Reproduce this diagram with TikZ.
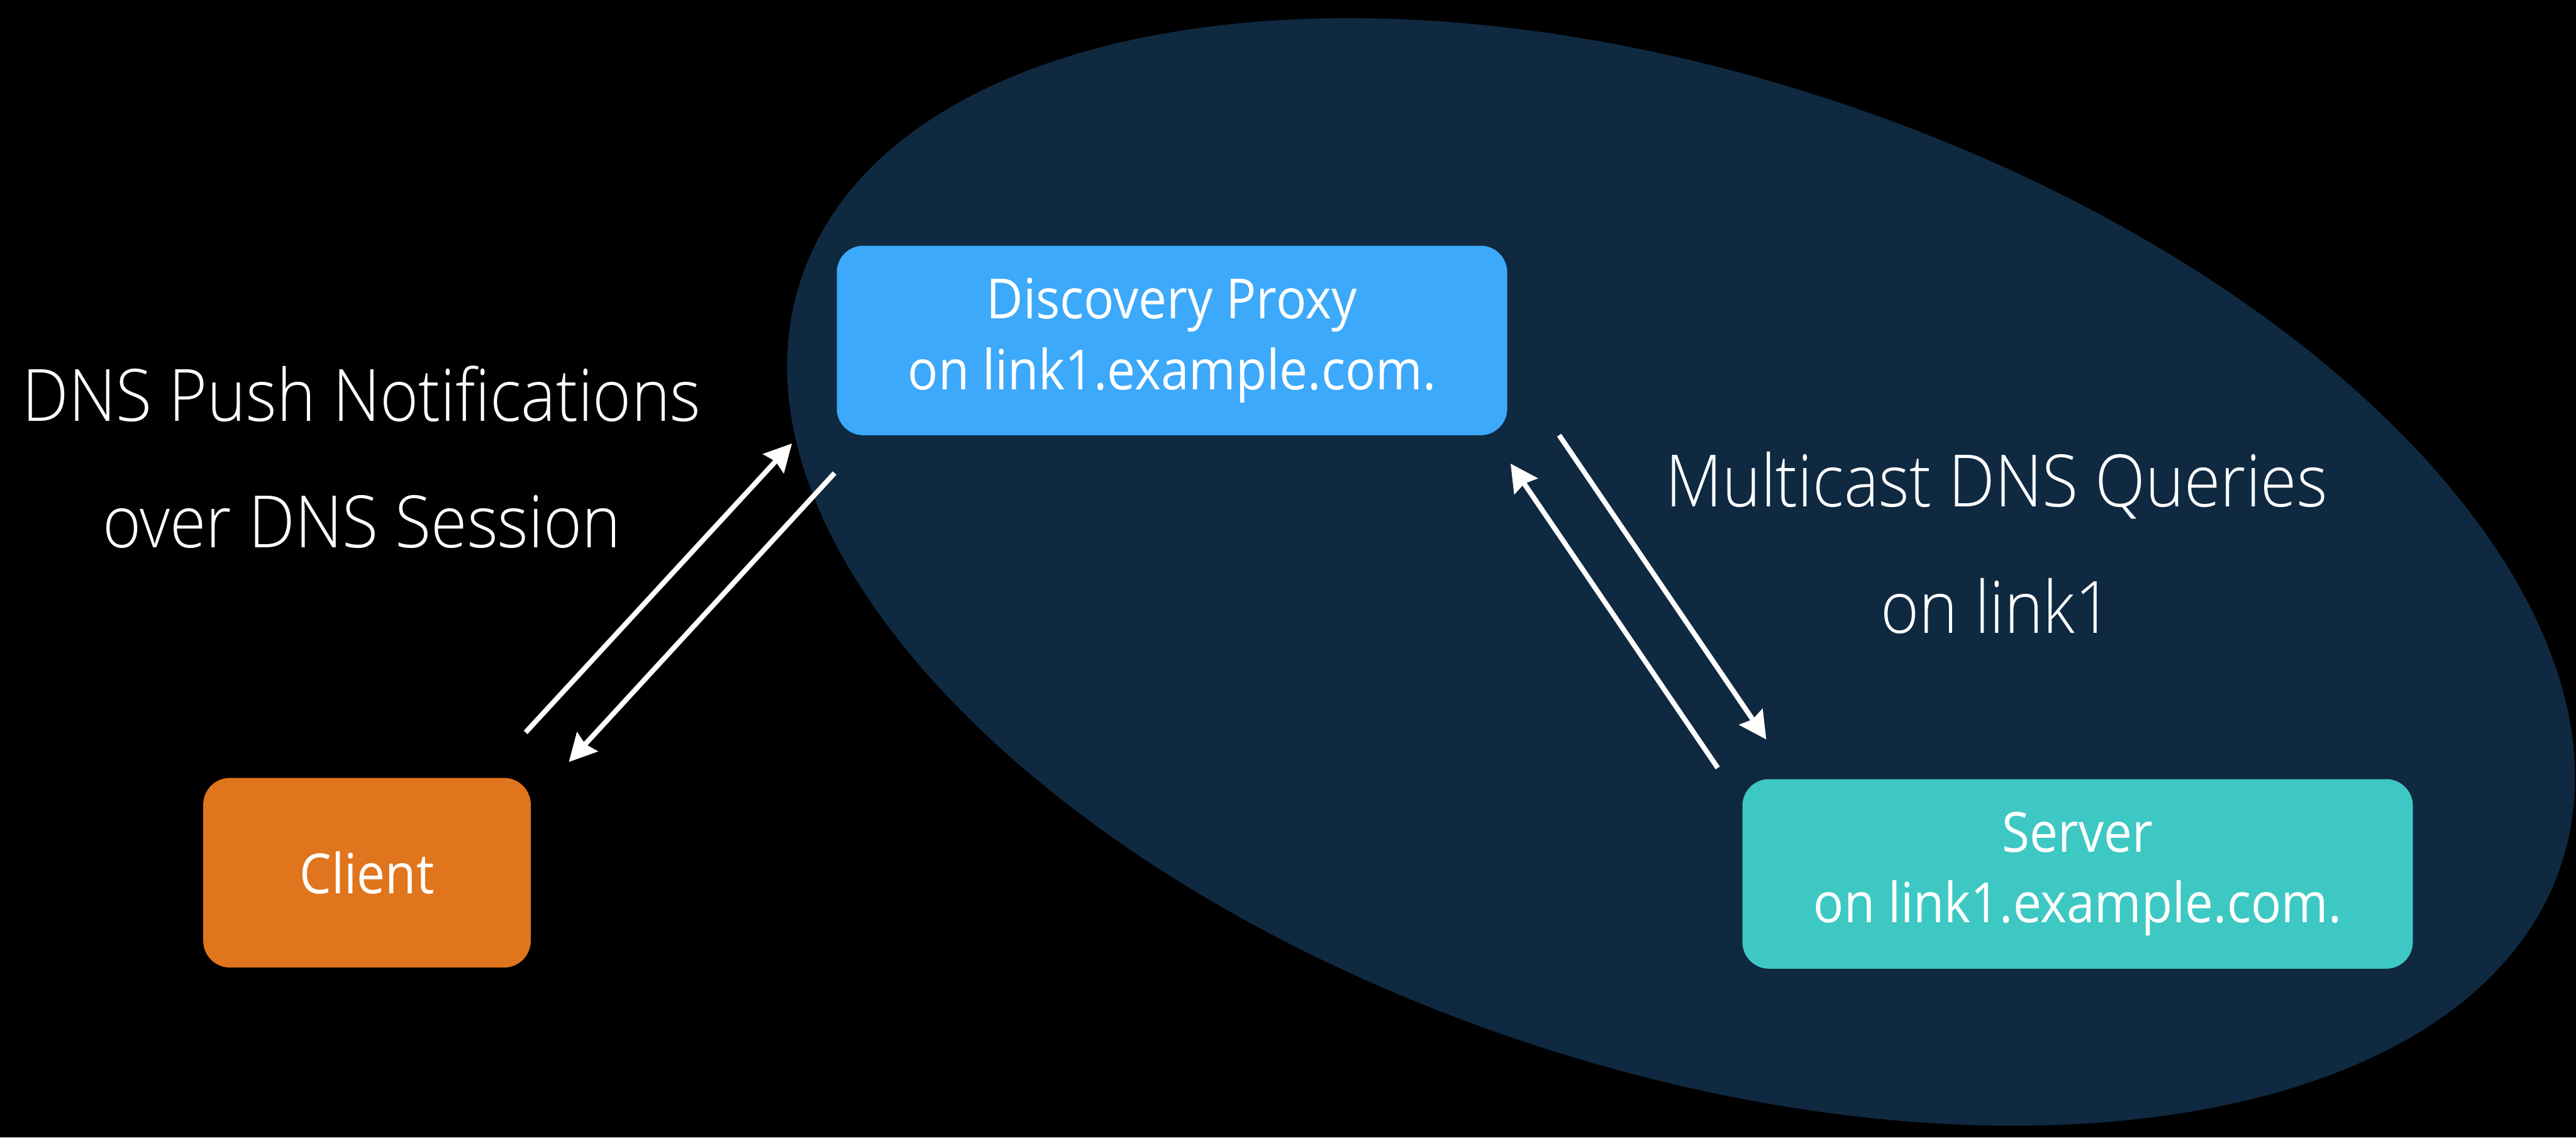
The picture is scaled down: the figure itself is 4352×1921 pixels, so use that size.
\documentclass[tikz,border=0pt]{standalone}
\usepackage{fontspec}
\usetikzlibrary{arrows.meta}
\newfontfamily\labelfont{Open Sans Light}[FakeStretch=0.91]
\newfontfamily\boxfont{Open Sans}[FakeStretch=0.91]
\definecolor{zonefill}{HTML}{0F2940}
\definecolor{proxyblue}{HTML}{3CA9FA}
\definecolor{clientorange}{HTML}{E0751D}
\definecolor{serverteal}{HTML}{3EC8C3}

\begin{document}
\begin{tikzpicture}[x=0.01cm, y=-0.01cm,
  box/.style={rectangle, rounded corners=0.45cm, inner sep=0pt, text=white, align=center,
    minimum height=3.2cm, font=\boxfont\fontsize{26.6}{34.1}\selectfont},
  caption/.style={text=white, align=center, inner sep=0pt,
    font=\labelfont\fontsize{34.7}{60.6}\selectfont},
  flow/.style={draw=white, line width=0.085cm,
    -{Stealth[length=0.46cm, width=0.47cm, inset=0.05cm]}}]

% canvas and link zone
\fill[black] (0,0) rectangle (4352,1921);
\useasboundingbox (0,0) rectangle (4352,1921);
\clip (0,0) rectangle (4352,1921);
\fill[zonefill, rotate around={-18.4:(2840,966)}]
  (2840,966) ellipse [x radius=15.66cm, y radius=8.36cm];

% hosts
\node[box, fill=proxyblue, minimum width=11.32cm] (proxy) at (1980,575)
  {Discovery Proxy\\on link1.example.com.};
\node[box, fill=clientorange, minimum width=5.53cm] (client) at (620,1474) {Client};
\node[box, fill=serverteal, minimum width=11.32cm] (server) at (3510,1476)
  {Server\\on link1.example.com.};

% protocol captions
\node[caption] (pushlabel) at (611,772) {DNS Push Notifications\\over DNS Session};
\node[caption] (mdnslabel) at (3373,917) {Multicast DNS Queries\\on link1};

% arrow end points
\coordinate (clientUp)   at (888,1237);
\coordinate (proxyIn)    at (1338,749);
\coordinate (proxyOut)   at (1410,799);
\coordinate (clientIn)   at (961,1287);
\coordinate (proxyQuery) at (2634,735);
\coordinate (serverIn)   at (2984,1249);
\coordinate (serverOut)  at (2902,1297);
\coordinate (proxyAns)   at (2552,783);

% message flows
\draw[flow] (clientUp) -- (proxyIn);
\draw[flow] (proxyOut) -- (clientIn);
\draw[flow] (proxyQuery) -- (serverIn);
\draw[flow] (serverOut) -- (proxyAns);
\end{tikzpicture}
\end{document}
